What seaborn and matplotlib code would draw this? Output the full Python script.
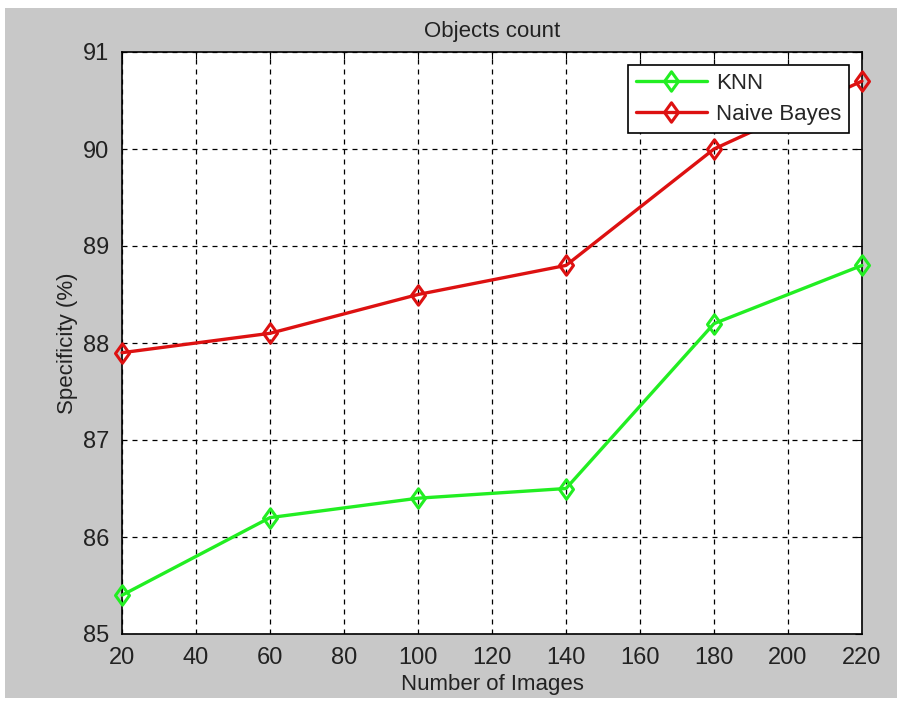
import matplotlib
matplotlib.use("Agg")
import matplotlib.pyplot as plt
import seaborn as sns
import pandas as pd
from matplotlib.patches import Rectangle
from matplotlib.path import Path

images = [20, 60, 100, 140, 180, 220]
knn = [85.4, 86.2, 86.4, 86.5, 88.2, 88.8]
naive_bayes = [87.9, 88.1, 88.5, 88.8, 90.0, 90.7]
x_ticks = [20, 40, 60, 80, 100, 120, 140, 160, 180, 200, 220]
y_ticks = [85, 86, 87, 88, 89, 90, 91]

df = pd.DataFrame({
    "Number of Images": images * 2,
    "Specificity": knn + naive_bayes,
    "Method": ["KNN"] * len(images) + ["Naive Bayes"] * len(images),
})

sns.set_style("white")
plt.rcParams['font.family'] = ['Liberation Sans', 'DejaVu Sans']

diamond = Path([(0, 1), (0.72, 0), (0, -1), (-0.72, 0), (0, 1)],
               [Path.MOVETO, Path.LINETO, Path.LINETO, Path.LINETO, Path.CLOSEPOLY])

fig = plt.figure(figsize=(9.02, 7.02), dpi=100, facecolor="white")
fig.patches.append(Rectangle((5/902, 4/702), 892/902, 690/702, transform=fig.transFigure,
                             facecolor="#c8c8c8", edgecolor="none", zorder=-10))
ax = fig.add_axes([122/902, 1 - 634/702, (862-122)/902, (634-52)/702])
ax.set_facecolor("white")

palette = {"KNN": "#22ee22", "Naive Bayes": "#dd1111"}
sns.lineplot(data=df, x="Number of Images", y="Specificity", hue="Method",
             palette=palette, marker=diamond, markersize=14, markerfacecolor="none",
             markeredgewidth=2.2, linewidth=2.4, ax=ax, clip_on=False, zorder=5)
for line in ax.get_lines():
    line.set_markerfacecolor("none")
    line.set_markeredgecolor(line.get_color())

ax.set_xlim(20, 220)
ax.set_ylim(85, 91)
ax.set_xticks(x_ticks)
ax.set_yticks(y_ticks)
ax.tick_params(axis="both", labelsize=17, direction="in", length=5, color="black",
               labelcolor="#222222", top=True, right=True)
ax.tick_params(axis="x", pad=9)
ax.tick_params(axis="y", pad=9)
ax.grid(True, color="black", linestyle=(0, (4, 4)), linewidth=0.9)
for s in ax.spines.values():
    s.set_color("black")
    s.set_linewidth(1.2)
    s.set_visible(True)

ax.set_xlabel("Number of Images", fontsize=16, color="#222222", labelpad=4)
ax.set_ylabel("Specificity (%)", fontsize=16, color="#222222", labelpad=4)
ax.set_title("Objects count", fontsize=16, color="#222222", pad=11)

leg = ax.legend(loc="upper right", fontsize=16, frameon=True, fancybox=False,
                edgecolor="black", framealpha=1, borderaxespad=0.6, handlelength=3.2,
                handletextpad=0.4, borderpad=0.35, labelspacing=0.45, title=None)
leg.get_frame().set_linewidth(1.2)
for h in leg.get_lines():
    h.set_markerfacecolor("none")
    h.set_markeredgecolor(h.get_color())

fig.savefig("out.png", dpi=100, facecolor="white")
